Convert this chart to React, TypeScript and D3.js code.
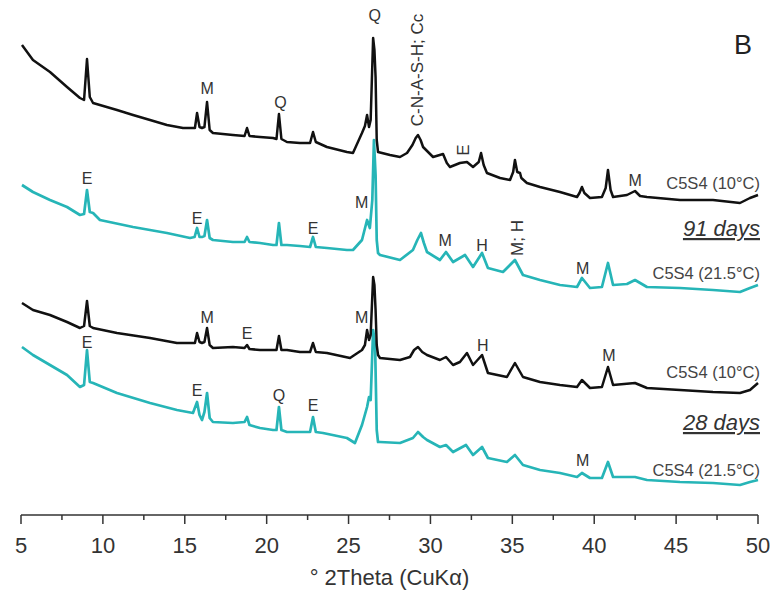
import React from 'react';
import * as d3 from 'd3';

// ° 2θ tick values
const majorTicks = [5, 10, 15, 20, 25, 30, 35, 40, 45, 50];
const minorTicks = [7.5, 12.5, 17.5, 22.5, 27.5, 32.5, 37.5, 42.5, 47.5];

// Intensity (a.u., offset patterns): [2θ, intensity]
const d91_10C: [number, number][] = [
  [5.06, 470], [5.73, 455], [6.77, 443], [7.81, 428], [8.6, 417], [8.85, 415], [9.03, 456], [9.2, 418], [9.4, 412],
  [10.86, 405], [11.84, 400], [12.88, 395], [13.91, 390], [14.89, 387], [15.62, 387], [15.75, 402], [15.9, 388],
  [16.05, 387], [16.2, 388], [16.36, 413], [16.52, 385], [16.72, 382], [17.94, 380], [18.65, 379], [18.8, 387],
  [18.95, 379], [19.59, 378], [20.39, 377], [20.6, 376], [20.75, 401], [20.9, 376], [21.24, 373], [22.03, 372],
  [22.65, 372], [22.83, 383], [23.0, 373], [23.68, 368], [24.9, 363], [25.27, 362], [25.82, 382], [26.0, 389],
  [26.13, 400], [26.25, 388], [26.35, 395], [26.5, 477], [26.58, 465], [26.65, 438], [26.72, 375], [26.8, 363],
  [27.53, 360], [28.14, 358], [28.57, 362], [28.9, 370], [29.1, 377], [29.24, 380], [29.4, 375], [29.55, 368],
  [30.16, 358], [30.77, 361], [31.0, 352], [31.19, 348], [31.8, 352], [32.23, 353], [32.6, 348], [32.95, 353],
  [33.09, 362], [33.25, 350], [33.45, 342], [34.25, 337], [34.86, 335], [35.05, 343], [35.16, 355], [35.3, 343],
  [35.47, 342], [35.55, 337], [35.89, 332], [36.69, 328], [37.91, 323], [38.95, 318], [39.1, 322], [39.25, 328],
  [39.4, 322], [39.74, 317], [40.47, 318], [40.7, 327], [40.84, 345], [41.0, 325], [41.15, 318], [42.0, 320],
  [42.49, 324], [42.8, 319], [43.22, 318], [45.24, 315], [47.25, 315], [48.9, 312], [49.51, 317], [50.0, 320],
];

const d91_21C: [number, number][] = [
  [5.06, 330], [5.73, 323], [6.77, 315], [7.81, 308], [8.6, 300], [8.85, 301], [9.03, 325], [9.2, 303], [9.4, 302],
  [9.82, 295], [11.84, 288], [13.91, 282], [15.32, 277], [15.6, 278], [15.75, 287], [15.9, 278], [16.05, 278],
  [16.2, 279], [16.36, 295], [16.52, 277], [16.72, 275], [17.94, 273], [18.65, 273], [18.8, 278], [18.95, 273],
  [19.59, 272], [20.39, 270], [20.6, 270], [20.75, 292], [20.9, 270], [21.24, 270], [22.03, 269], [22.65, 268],
  [22.83, 278], [23.0, 268], [23.68, 267], [24.9, 265], [25.27, 265], [25.82, 275], [26.13, 295], [26.3, 287],
  [26.45, 315], [26.55, 375], [26.65, 340], [26.72, 275], [26.8, 262], [26.92, 260], [28.14, 255], [28.93, 265],
  [29.2, 275], [29.42, 282], [29.6, 272], [29.79, 263], [30.58, 255], [30.95, 263], [31.38, 253], [32.11, 260],
  [32.6, 248], [33.15, 262], [33.51, 247], [34.43, 243], [35.16, 255], [35.65, 240], [36.69, 235], [37.91, 230],
  [38.95, 228], [39.25, 237], [39.74, 227], [40.47, 228], [40.84, 252], [41.15, 230], [42.0, 231], [42.49, 235],
  [43.22, 228], [45.24, 227], [47.25, 225], [48.9, 223], [49.51, 227], [50.0, 230],
];

const d28_10C: [number, number][] = [
  [5.06, 212], [5.73, 205], [6.77, 200], [7.81, 193], [8.6, 187], [8.85, 189], [9.03, 214], [9.2, 189], [9.4, 187],
  [10.86, 182], [12.88, 177], [14.52, 172], [15.62, 172], [15.75, 182], [15.9, 173], [16.05, 172], [16.2, 173],
  [16.36, 187], [16.52, 170], [16.72, 167], [17.94, 168], [18.65, 167], [18.8, 170], [18.95, 166], [19.59, 165],
  [20.39, 165], [20.6, 165], [20.75, 179], [20.9, 165], [21.24, 165], [22.03, 163], [22.65, 163], [22.83, 172],
  [23.0, 163], [23.68, 162], [25.09, 157], [25.82, 165], [26.0, 170], [26.13, 185], [26.25, 175], [26.35, 180],
  [26.5, 238], [26.58, 230], [26.65, 205], [26.72, 170], [26.8, 160], [26.92, 157], [28.14, 155], [28.75, 158],
  [29.0, 165], [29.24, 168], [29.5, 163], [29.79, 160], [30.58, 155], [30.95, 158], [31.38, 150], [31.8, 153],
  [32.23, 162], [32.6, 150], [33.15, 160], [33.51, 142], [34.67, 138], [35.16, 152], [35.65, 138], [36.69, 133],
  [37.91, 130], [38.95, 128], [39.25, 135], [39.74, 127], [40.47, 128], [40.84, 148], [41.15, 130], [42.49, 132],
  [43.22, 127], [45.24, 125], [47.25, 123], [48.9, 122], [49.51, 125], [50.0, 132],
];

const d28_21C: [number, number][] = [
  [5.06, 168], [5.73, 160], [6.77, 150], [7.81, 140], [8.6, 128], [8.85, 130], [9.03, 165], [9.2, 133], [9.4, 132],
  [10.86, 122], [12.88, 112], [14.52, 105], [15.5, 102], [15.75, 113], [15.9, 100], [16.05, 95], [16.2, 103],
  [16.36, 122], [16.52, 97], [16.72, 93], [17.94, 92], [18.65, 93], [18.8, 98], [18.95, 90], [19.59, 87],
  [20.39, 85], [20.6, 85], [20.75, 108], [20.9, 85], [21.24, 83], [22.03, 83], [22.65, 83], [22.83, 98], [23.0, 83],
  [23.44, 82], [24.9, 77], [25.39, 72], [25.82, 90], [26.13, 108], [26.25, 118], [26.35, 115], [26.5, 185],
  [26.62, 170], [26.72, 85], [26.8, 73], [26.92, 73], [28.14, 72], [28.93, 77], [29.24, 83], [29.55, 78],
  [29.79, 75], [30.58, 68], [30.95, 70], [31.38, 63], [32.17, 70], [32.6, 60], [33.15, 68], [33.51, 57],
  [34.67, 53], [35.16, 60], [35.65, 50], [36.69, 45], [37.91, 42], [38.95, 38], [39.25, 42], [39.74, 37],
  [40.47, 37], [40.84, 53], [41.15, 38], [42.49, 38], [43.22, 35], [45.24, 33], [47.25, 32], [48.9, 30],
  [49.51, 33], [50.0, 35],
];

// Phase annotations: [label, 2θ, intensity]
const peakLabels: [string, number, number][] = [
  ['Q', 26.6, 500], ['M', 16.36, 427], ['Q', 20.85, 413], ['M', 42.5, 335],
  ['E', 9.03, 337], ['E', 15.75, 297], ['E', 22.83, 287], ['M', 25.8, 313], ['M', 30.9, 275], ['H', 33.15, 270], ['M', 39.3, 247],
  ['M', 16.36, 198], ['E', 18.8, 182], ['M', 25.8, 198], ['H', 33.2, 170], ['M', 40.9, 160],
  ['E', 9.03, 173], ['E', 15.75, 125], ['Q', 20.75, 120], ['E', 22.83, 110], ['M', 39.3, 55],
];
const rotatedLabels: [string, number, number][] = [
  ['C-N-A-S-H; Cc', 29.24, 445], ['E', 32.0, 365], ['M; H', 35.3, 277],
];
const sampleLabels: [string, number][] = [
  ['C5S4 (10°C)', 332], ['C5S4 (21.5°C)', 242], ['C5S4 (10°C)', 143], ['C5S4 (21.5°C)', 45],
];
const ageLabels: [string, number][] = [['91 days', 279], ['28 days', 85]];

const BLACK = '#111111';
const CYAN = '#26b5b7';

export default function App() {
  const W = 774;
  const H = 593;
  const x = d3.scaleLinear().domain([5, 50]).range([21, 758]);
  const y = d3.scaleLinear().domain([0, 500]).range([515, 15]);
  const line = d3.line<[number, number]>().x((d) => x(d[0])).y((d) => y(d[1]));
  const font = 'Liberation Sans, Arial, sans-serif';
  const axisY = y(0);

  return (
    <div style={{ position: 'absolute', left: 0, top: 0 }}>
      <svg width={W} height={H} style={{ display: 'block', background: '#fff' }}>
        <g fill="none" strokeLinejoin="round">
          <path d={line(d28_21C) || ''} stroke={CYAN} strokeWidth={2.7} />
          <path d={line(d91_21C) || ''} stroke={CYAN} strokeWidth={2.7} />
          <path d={line(d28_10C) || ''} stroke={BLACK} strokeWidth={2.5} />
          <path d={line(d91_10C) || ''} stroke={BLACK} strokeWidth={2.5} />
        </g>
        <g fontFamily={font} fill="#333" fontSize={16}>
          {peakLabels.map(([t, px, py], i) => (
            <text key={'p' + i} x={x(px)} y={y(py)} textAnchor="middle" dominantBaseline="central">{t}</text>
          ))}
          {rotatedLabels.map(([t, px, py], i) => (
            <text key={'r' + i} transform={`translate(${x(px)},${y(py)}) rotate(-90)`} textAnchor="middle" dominantBaseline="central" fontSize={17}>{t}</text>
          ))}
          {sampleLabels.map(([t, py], i) => (
            <text key={'s' + i} x={x(50) + 2} y={y(py)} textAnchor="end" dominantBaseline="central" fontSize={16.5} fill="#444">{t}</text>
          ))}
          {ageLabels.map(([t, py], i) => (
            <text key={'a' + i} x={x(50) + 2} y={y(py)} textAnchor="end" fontSize={22} fontStyle="italic" textDecoration="underline" fill="#333">{t}</text>
          ))}
          <text x={x(50) - 15} y={y(470)} textAnchor="middle" dominantBaseline="central" fontSize={27} fill="#222">B</text>
        </g>
        <g stroke="#333" strokeWidth={1.5}>
          <line x1={x(5)} x2={x(50)} y1={axisY} y2={axisY} />
          {majorTicks.map((t) => (
            <line key={'M' + t} x1={x(t)} x2={x(t)} y1={axisY} y2={axisY + 9} />
          ))}
          {minorTicks.map((t) => (
            <line key={'m' + t} x1={x(t)} x2={x(t)} y1={axisY} y2={axisY + 5} />
          ))}
        </g>
        <g fontFamily={font} fill="#333" fontSize={22}>
          {majorTicks.map((t) => (
            <text key={'t' + t} x={x(t)} y={axisY + 38} textAnchor="middle">{t}</text>
          ))}
          <text x={(x(5) + x(50)) / 2} y={axisY + 70} textAnchor="middle">° 2Theta (CuKα)</text>
        </g>
      </svg>
    </div>
  );
}
